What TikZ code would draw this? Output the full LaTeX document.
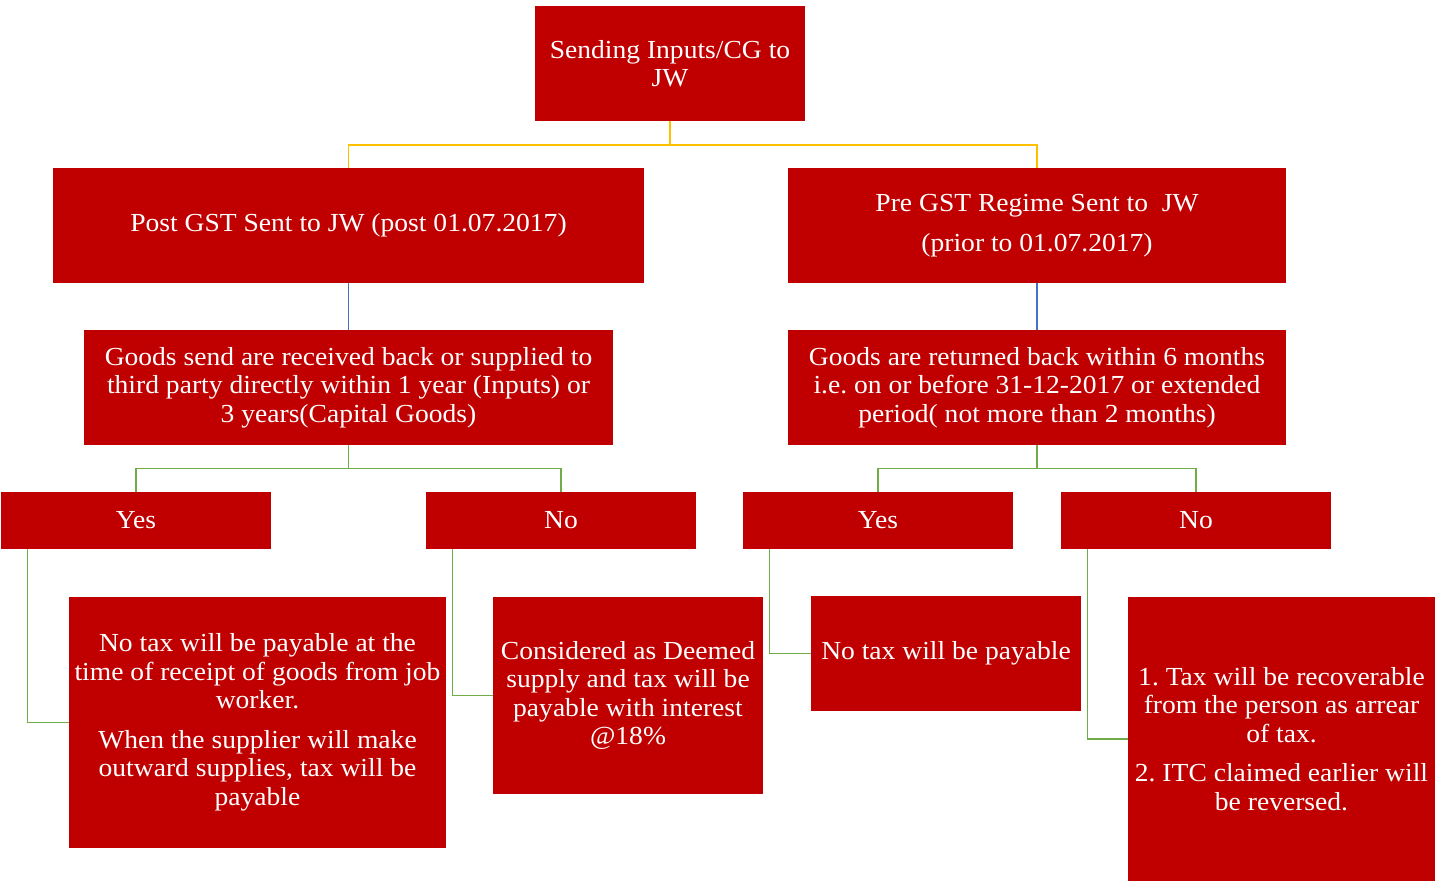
\documentclass[tikz,border=0pt]{standalone}
\usepackage{fontspec}
\setmainfont{Liberation Serif}[FakeStretch=1.06]
\frenchspacing
\definecolor{boxred}{HTML}{C00000}
\definecolor{conyellow}{HTML}{FFC000}
\definecolor{conblue}{HTML}{4472C4}
\definecolor{congreen}{HTML}{70AD47}
\begin{document}
\begin{tikzpicture}[x=1pt,y=-1pt,
  box/.style={fill=boxred, text=white, inner sep=0pt, align=center,
    font=\fontsize{26}{28.5}\selectfont},
  ylw/.style={draw=conyellow, line width=1.6pt},
  blu/.style={draw=conblue, line width=1.1pt},
  grn/.style={draw=congreen, line width=1.3pt}]
\useasboundingbox (0,0) rectangle (1435,881);
\node[box, minimum width=270, minimum height=115] (top) at (670,63.5) {Sending Inputs/CG to\\JW};
\node[box, minimum width=591, minimum height=115] (post) at (348.5,225.5) {Post GST Sent to JW (post 01.07.2017)};
\node[box, minimum width=498, minimum height=115] (pre) at (1037,225.5) {Pre GST Regime Sent to\ \ JW\\[11.5pt](prior to 01.07.2017)};
\node[box, minimum width=529, minimum height=115] (gl) at (348.5,387.5) {Goods send are received back or supplied to\\third party directly within 1 year (Inputs) or\\3 years(Capital Goods)};
\node[box, minimum width=498, minimum height=115] (gr) at (1037,387.5) {Goods are returned back within 6 months\\i.e. on or before 31-12-2017 or extended\\period( not more than 2 months)};
\node[box, minimum width=270, minimum height=57] (yesl) at (136,520.5) {Yes};
\node[box, minimum width=270, minimum height=57] (nol) at (561,520.5) {No};
\node[box, minimum width=270, minimum height=57] (yesr) at (878,520.5) {Yes};
\node[box, minimum width=270, minimum height=57] (nor) at (1196,520.5) {No};
\node[box, minimum width=377, minimum height=251] (tyl) at (257.5,722.5) {No tax will be payable at the\\time of receipt of goods from job\\worker.\\[11pt]When the supplier will make\\outward supplies, tax will be\\payable};
\node[box, minimum width=270, minimum height=197] (tnl) at (628,695.5) {Considered as Deemed\\supply and tax will be\\payable with interest\\@18\%};
\node[box, minimum width=270, minimum height=115] (tyr) at (946,653.5) {No tax will be payable};
\node[box, minimum width=307, minimum height=284] (tnr) at (1281.5,739) {1. Tax will be recoverable\\from the person as arrear\\of tax.\\[11pt]2. ITC claimed earlier will\\be reversed.};
\draw[ylw] (top.south) -- ++(0,24) -| (post.north);
\draw[ylw] (top.south) ++(0,24) -| (pre.north);
\draw[blu] (post.south) -- (gl.north);
\draw[blu] (pre.south) -- (gr.north);
\draw[grn] (gl.south) -- ++(0,23) -| (yesl.north);
\draw[grn] (gl.south) ++(0,23) -| (nol.north);
\draw[grn] (gr.south) -- ++(0,23) -| (yesr.north);
\draw[grn] (gr.south) ++(0,23) -| (nor.north);
\draw[grn] (yesl.south west) ++(27,0) |- (tyl.west);
\draw[grn] (nol.south west) ++(27,0) |- (tnl.west);
\draw[grn] (yesr.south west) ++(27,0) |- (tyr.west);
\draw[grn] (nor.south west) ++(27,0) |- (tnr.west);
\end{tikzpicture}
\end{document}
